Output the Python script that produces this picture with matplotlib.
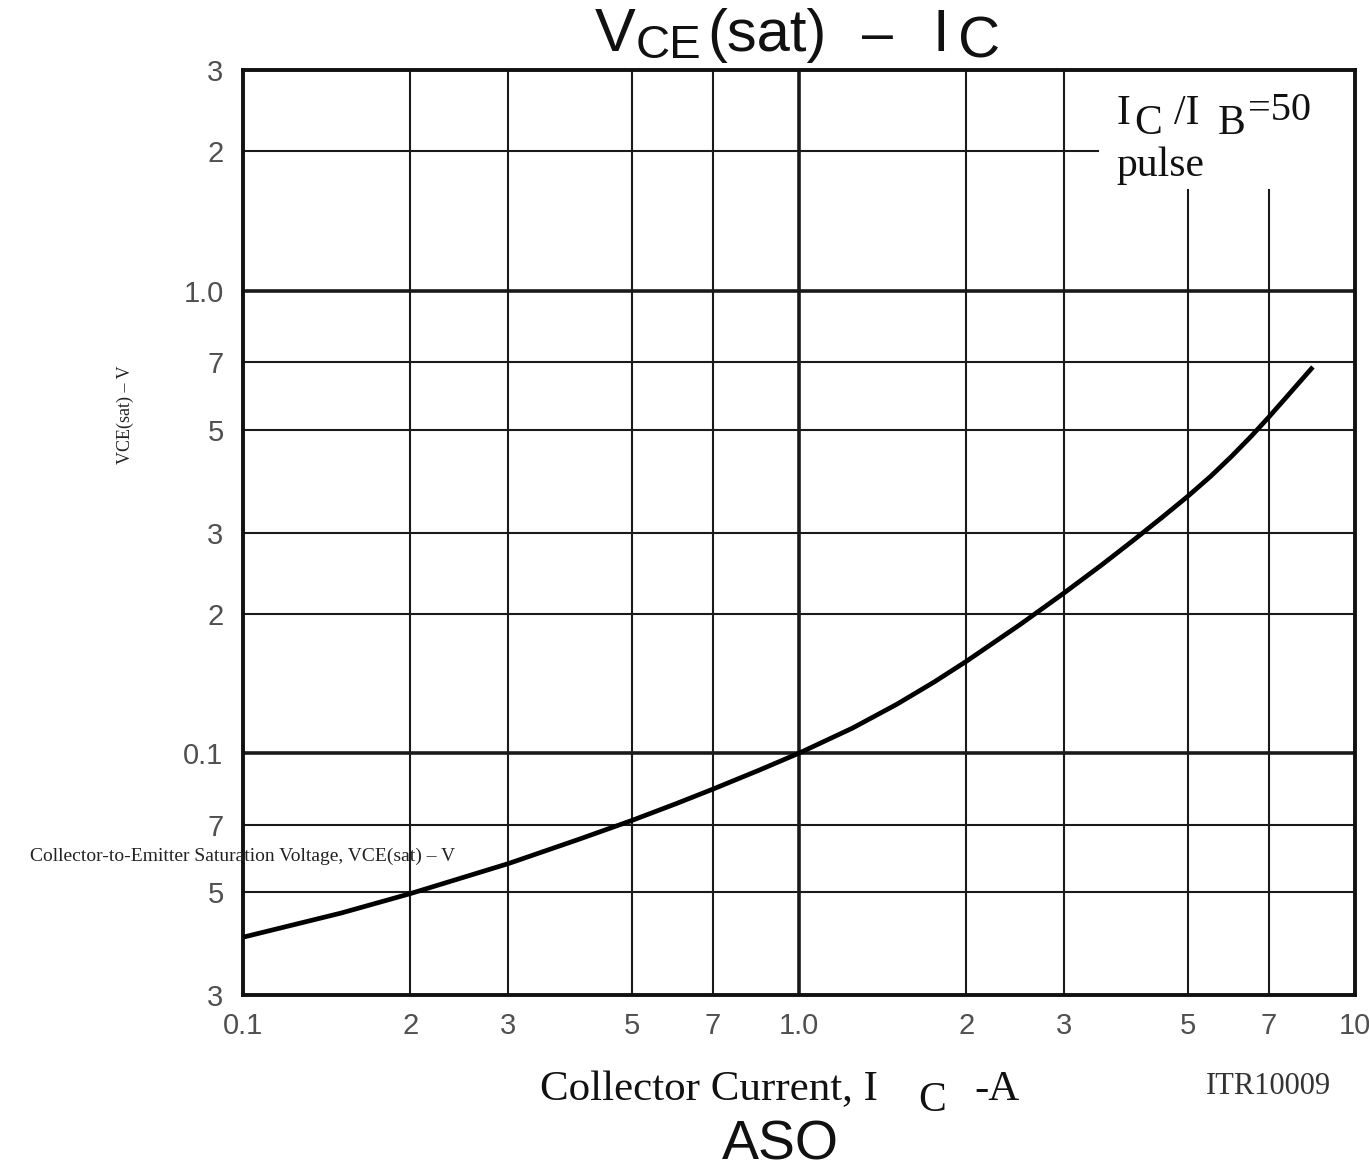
import numpy as np
import matplotlib
matplotlib.use("Agg")
import matplotlib.pyplot as plt
from matplotlib.ticker import NullLocator, FixedLocator, FixedFormatter

# ---- data ----
ic_a = [0.1, 0.15, 0.2, 0.3, 0.4, 0.5, 0.6, 0.7, 0.85, 1.0, 1.25, 1.5, 1.75, 2.0,
        2.5, 3.0, 3.5, 4.0, 4.5, 5.0, 5.5, 6.0, 6.5, 7.0, 7.5, 8.0, 8.4]
vce_sat = [0.0400, 0.0451, 0.0497, 0.0577, 0.0650, 0.0715, 0.0777, 0.0836, 0.0920,
           0.100, 0.1134, 0.1276, 0.1425, 0.158, 0.1898, 0.2222, 0.2551, 0.2890,
           0.3236, 0.3590, 0.3968, 0.4385, 0.4838, 0.5331, 0.5857, 0.6399, 0.684]

x_ticks = [0.1, 0.2, 0.3, 0.5, 0.7, 1.0, 2, 3, 5, 7, 10]
x_tick_labels = ["0.1", "2", "3", "5", "7", "1.0", "2", "3", "5", "7", "10"]
y_ticks = [0.03, 0.05, 0.07, 0.1, 0.2, 0.3, 0.5, 0.7, 1.0, 2, 3]
y_tick_labels = ["3", "5", "7", "0.1", "2", "3", "5", "7", "1.0", "2", "3"]

x_grid_full = [0.2, 0.3, 0.5, 0.7, 1.0, 2, 3]
x_grid_short = [5, 7]
y_grid_full = [0.05, 0.07, 0.1, 0.2, 0.3, 0.5, 0.7, 1.0]
y_grid_short = [2]
decades = [0.1, 1.0]

W, H = 1369, 1174
fig = plt.figure(figsize=(W / 100, H / 100), dpi=100)
fig.patch.set_facecolor("white")

def fx(px):
    return px / W

def fy(py):
    return 1 - py / H

ax = fig.add_axes([fx(243), fy(995), (1355 - 243) / W, (995 - 70) / H])
ax.set_xscale("log")
ax.set_yscale("log")
ax.set_xlim(0.1, 10)
ax.set_ylim(0.03, 3)

gc = "#1a1a1a"
for x in x_grid_full:
    ax.axvline(x, color=gc, lw=2.6 if x in decades else 1.5, zorder=1)
ymax_short = (np.log10(1.65) - np.log10(0.03)) / 2
for x in x_grid_short:
    ax.axvline(x, ymax=ymax_short, color=gc, lw=1.5, zorder=1)
for y in y_grid_full:
    ax.axhline(y, color=gc, lw=2.6 if y in decades else 1.5, zorder=1)
xmax_short = (np.log10(3.45) - np.log10(0.1)) / 2
for y in y_grid_short:
    ax.axhline(y, xmax=xmax_short, color=gc, lw=1.5, zorder=1)

ax.plot(ic_a, vce_sat, color="black", lw=3.4, solid_capstyle="butt",
        solid_joinstyle="round", zorder=3)

for s in ax.spines.values():
    s.set_linewidth(2.8)
    s.set_color("#111111")

tick_family = ["Liberation Sans Narrow", "Liberation Sans"]
ax.xaxis.set_major_locator(FixedLocator(x_ticks))
ax.xaxis.set_major_formatter(FixedFormatter(x_tick_labels))
ax.yaxis.set_major_locator(FixedLocator(y_ticks))
ax.yaxis.set_major_formatter(FixedFormatter(y_tick_labels))
ax.xaxis.set_minor_locator(NullLocator())
ax.yaxis.set_minor_locator(NullLocator())
ax.tick_params(axis="both", length=0, colors="#505050")
ax.tick_params(axis="x", pad=12)
ax.tick_params(axis="y", pad=14)
for lab in ax.get_xticklabels() + ax.get_yticklabels():
    lab.set_fontfamily(tick_family)
    lab.set_fontsize(21)
    lab.set_color("#505050")

# ---- title ----
sans = "Liberation Sans"
serif = "Liberation Serif"
tc = "#111111"
fig.text(fx(595), fy(51), "V", fontsize=44, family=sans, color=tc, va="baseline")
fig.text(fx(636), fy(58), "CE", fontsize=34, family=sans, color=tc, va="baseline")
fig.text(fx(707), fy(51), "(sat)", fontsize=43, family=sans, color=tc, va="baseline")
fig.text(fx(862), fy(51), "–", fontsize=40, family=sans, color=tc, va="baseline")
fig.text(fx(932), fy(51), "I", fontsize=43, family=sans, color=tc, va="baseline")
fig.text(fx(958), fy(58), "C", fontsize=42, family=sans, color=tc, va="baseline")

# ---- condition text ----
fig.text(fx(1116), fy(124), "I", fontsize=30, family=serif, color=tc, va="baseline")
fig.text(fx(1134), fy(134), "C", fontsize=30, family=serif, color=tc, va="baseline")
fig.text(fx(1174), fy(124), "/I", fontsize=30, family=serif, color=tc, va="baseline")
fig.text(fx(1218), fy(134), "B", fontsize=30, family=serif, color=tc, va="baseline")
fig.text(fx(1248), fy(120), "=50", fontsize=29, family=serif, color=tc, va="baseline")
fig.text(fx(1116), fy(176), "pulse", fontsize=30, family=serif, color=tc, va="baseline")

# ---- axis labels ----
fig.text(fx(540), fy(1100), "Collector Current, I", fontsize=31, family=serif,
         color=tc, va="baseline")
fig.text(fx(918), fy(1111), "C", fontsize=30, family=serif, color=tc, va="baseline")
fig.text(fx(974), fy(1100), "-A", fontsize=31, family=serif, color=tc, va="baseline")
fig.text(fx(1206), fy(1094), "ITR10009", fontsize=22, family=serif, color="#333333",
         va="baseline")
fig.text(fx(780), fy(1160), "ASO", fontsize=40, family=sans, color=tc, va="baseline",
         ha="center")

# garbled y-axis label as in the source image
fig.text(fx(30), fy(856), "Collector-to-Emitter Saturation Voltage, VCE(sat) – V",
         fontsize=14, family=serif, color="#222222", va="center", ha="left")
fig.text(fx(125), fy(415), "VCE(sat) – V", fontsize=13, family=serif,
         color="#222222", va="center", ha="center", rotation=90)

fig.savefig("out.png", dpi=100, facecolor="white")
